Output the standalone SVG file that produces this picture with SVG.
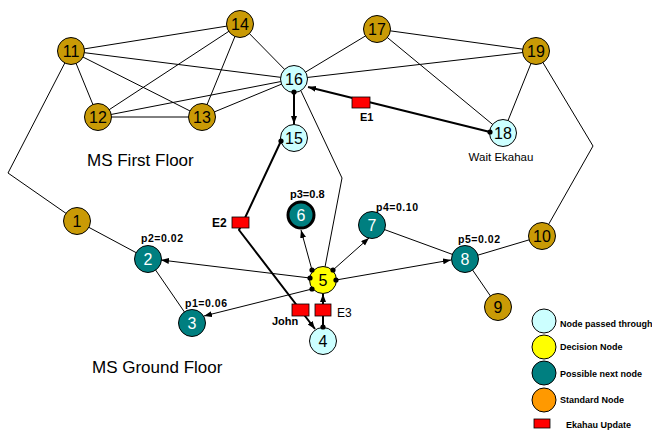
<svg xmlns="http://www.w3.org/2000/svg" width="652" height="430" viewBox="0 0 652 430">
<style>
text{font-family:"Liberation Sans",Arial,sans-serif;}
.e{stroke:#000;stroke-width:1;fill:none;}
.t{stroke:#000;stroke-width:2;fill:none;}
.n circle{stroke:#000;stroke-width:1;}
.n text{font-size:16px;text-anchor:middle;}
.gold{fill:#C99A06;}
.teal{fill:#007F80;}
.cyan{fill:#CCFFFF;}
.yel{fill:#FFFF00;}
.wt{fill:#fff;}
.lab{font-size:10.5px;font-weight:bold;}
.bl{font-size:11px;font-weight:bold;}
.leg{font-size:9px;font-weight:bold;}
.upd{fill:#FF0000;stroke:#000;stroke-width:0.8;}
</style>
<defs>
<marker id="arr" markerUnits="userSpaceOnUse" markerWidth="9" markerHeight="7" refX="8" refY="3" orient="auto"><path d="M0,0 L8,3 L0,6 z" fill="#000"/></marker>
<marker id="dot" markerUnits="userSpaceOnUse" markerWidth="6" markerHeight="6" refX="3" refY="3"><circle cx="3" cy="3" r="2.6" fill="#000"/></marker>
</defs>
<rect width="652" height="430" fill="#fff"/>
<g id="connectors">
<line class="e" x1="71" y1="51" x2="240" y2="24"/>
<line class="e" x1="71" y1="51" x2="294" y2="79"/>
<line class="e" x1="71" y1="51" x2="202" y2="117"/>
<line class="e" x1="71" y1="51" x2="98" y2="117"/>
<line class="e" x1="98" y1="117" x2="240" y2="24"/>
<line class="e" x1="98" y1="117" x2="202" y2="117"/>
<line class="e" x1="98" y1="117" x2="294" y2="79"/>
<line class="e" x1="202" y1="117" x2="240" y2="24"/>
<line class="e" x1="202" y1="117" x2="294" y2="79"/>
<line class="e" x1="240" y1="24" x2="294" y2="79"/>
<line class="e" x1="294" y1="79" x2="377" y2="29"/>
<line class="e" x1="294" y1="79" x2="536" y2="51"/>
<line class="e" x1="377" y1="29" x2="536" y2="51"/>
<line class="e" x1="377" y1="29" x2="503" y2="133"/>
<line class="e" x1="536" y1="51" x2="503" y2="133"/>
<polyline class="e" points="71,51 8,173 77,221"/>
<polyline class="e" points="536,51 593,146 542,236"/>
<line class="e" x1="77" y1="221" x2="148" y2="259"/>
<line class="e" x1="148" y1="259" x2="192" y2="323"/>
<line class="e" x1="372" y1="225" x2="465" y2="259"/>
<line class="e" x1="465" y1="259" x2="542" y2="236"/>
<line class="e" x1="465" y1="259" x2="498" y2="307"/>
<polyline class="e" points="301,91 342,178 325,267"/>
</g>
<g id="n1" class="n"><circle class="gold" cx="77" cy="221" r="13.5"/><text x="77" y="227">1</text></g>
<g id="n2" class="n"><circle class="teal" cx="148" cy="259" r="13.5"/><text class="wt" x="148" y="265">2</text></g>
<g id="n3" class="n"><circle class="teal" cx="192" cy="323" r="13.5"/><text class="wt" x="192" y="329">3</text></g>
<g id="n4" class="n"><circle class="cyan" cx="323" cy="341" r="13.5"/><text x="323" y="347">4</text></g>
<g id="n5" class="n"><circle class="yel" cx="323" cy="280" r="13.5"/><text x="323" y="286">5</text></g>
<g id="n6" class="n"><circle class="teal" cx="301" cy="215" r="13" style="stroke-width:3"/><text class="wt" x="301" y="221">6</text></g>
<g id="n7" class="n"><circle class="teal" cx="372" cy="225" r="13.5"/><text class="wt" x="372" y="231">7</text></g>
<g id="n8" class="n"><circle class="teal" cx="465" cy="259" r="13.5"/><text class="wt" x="465" y="265">8</text></g>
<g id="n9" class="n"><circle class="gold" cx="498" cy="307" r="13.5"/><text x="498" y="313">9</text></g>
<g id="n10" class="n"><circle class="gold" cx="542" cy="236" r="13.5"/><text x="542" y="242">10</text></g>
<g id="n11" class="n"><circle class="gold" cx="71" cy="51" r="13.5"/><text x="71" y="57">11</text></g>
<g id="n12" class="n"><circle class="gold" cx="98" cy="117" r="13.5"/><text x="98" y="123">12</text></g>
<g id="n13" class="n"><circle class="gold" cx="202" cy="117" r="13.5"/><text x="202" y="123">13</text></g>
<g id="n14" class="n"><circle class="gold" cx="240" cy="24" r="13.5"/><text x="240" y="30">14</text></g>
<g id="n15" class="n"><circle class="cyan" cx="294" cy="138" r="13.5"/><text x="294" y="144">15</text></g>
<g id="n16" class="n"><circle class="cyan" cx="294" cy="79" r="13.5"/><text x="294" y="85">16</text></g>
<g id="n17" class="n"><circle class="gold" cx="377" cy="29" r="13.5"/><text x="377" y="35">17</text></g>
<g id="n18" class="n"><circle class="cyan" cx="503" cy="133" r="13.5"/><text x="503" y="139">18</text></g>
<g id="n19" class="n"><circle class="gold" cx="536" cy="51" r="13.5"/><text x="536" y="57">19</text></g>
<g id="paths">
<line class="e" x1="310" y1="278" x2="161" y2="260" marker-start="url(#dot)" marker-end="url(#arr)"/>
<line class="e" x1="312" y1="289" x2="204" y2="316" marker-start="url(#dot)" marker-end="url(#arr)"/>
<line class="e" x1="312" y1="270" x2="301" y2="230" marker-start="url(#dot)" marker-end="url(#arr)"/>
<line class="e" x1="333" y1="270" x2="369" y2="238" marker-start="url(#dot)" marker-end="url(#arr)"/>
<line class="e" x1="336" y1="280" x2="451" y2="260" marker-start="url(#dot)" marker-end="url(#arr)"/>
<line class="t" x1="294" y1="92" x2="294" y2="124" marker-start="url(#dot)" marker-end="url(#arr)"/>
<line class="t" x1="323" y1="327" x2="323" y2="294" marker-start="url(#dot)" marker-end="url(#arr)"/>
<line class="t" x1="490" y1="132" x2="308" y2="87" marker-start="url(#dot)" marker-end="url(#arr)"/>
<polyline class="t" points="281,141 244,220 239,230 315,329" marker-start="url(#dot)" marker-end="url(#arr)"/>
</g>
<g id="updates">
<rect class="upd" x="352" y="97" width="18" height="11"/>
<rect class="upd" x="232" y="217" width="17" height="11"/>
<rect class="upd" x="292" y="304" width="17" height="12"/>
<rect class="upd" x="315" y="304" width="16" height="12"/>
</g>
<g id="labels">
<text x="87" y="166" style="font-size:17px">MS First Floor</text>
<text x="92" y="373" style="font-size:17px">MS Ground Floor</text>
<text x="501" y="161" style="font-size:11.5px" text-anchor="middle">Wait Ekahau</text>
<text class="bl" x="360" y="121">E1</text>
<text x="212" y="227" style="font-size:12px;font-weight:bold">E2</text>
<text x="337" y="317" style="font-size:12px">E3</text>
<text class="bl" x="272" y="325">John</text>
<text class="bl" x="290" y="198">p3=0.8</text>
<text class="lab" x="141" y="242" textLength="42">p2=0.02</text>
<text class="lab" x="185" y="307" textLength="42">p1=0.06</text>
<text class="lab" x="376" y="211" textLength="42">p4=0.10</text>
<text class="lab" x="458" y="243" textLength="42">p5=0.02</text>
</g>
<g id="legend">
<circle class="cyan" cx="544" cy="321" r="12" stroke="#000"/>
<circle class="yel" cx="544" cy="347" r="12" stroke="#000"/>
<circle class="teal" cx="544" cy="373" r="12" stroke="#000"/>
<circle cx="544" cy="400" r="12" fill="#FF9900" stroke="#000"/>
<rect class="upd" x="534" y="419" width="16" height="9"/>
<text class="leg" x="560" y="327">Node passed through</text>
<text class="leg" x="560" y="350">Decision Node</text>
<text class="leg" x="560" y="377">Possible next node</text>
<text class="leg" x="560" y="403">Standard Node</text>
<text class="leg" x="566" y="428">Ekahau Update</text>
</g>
</svg>
